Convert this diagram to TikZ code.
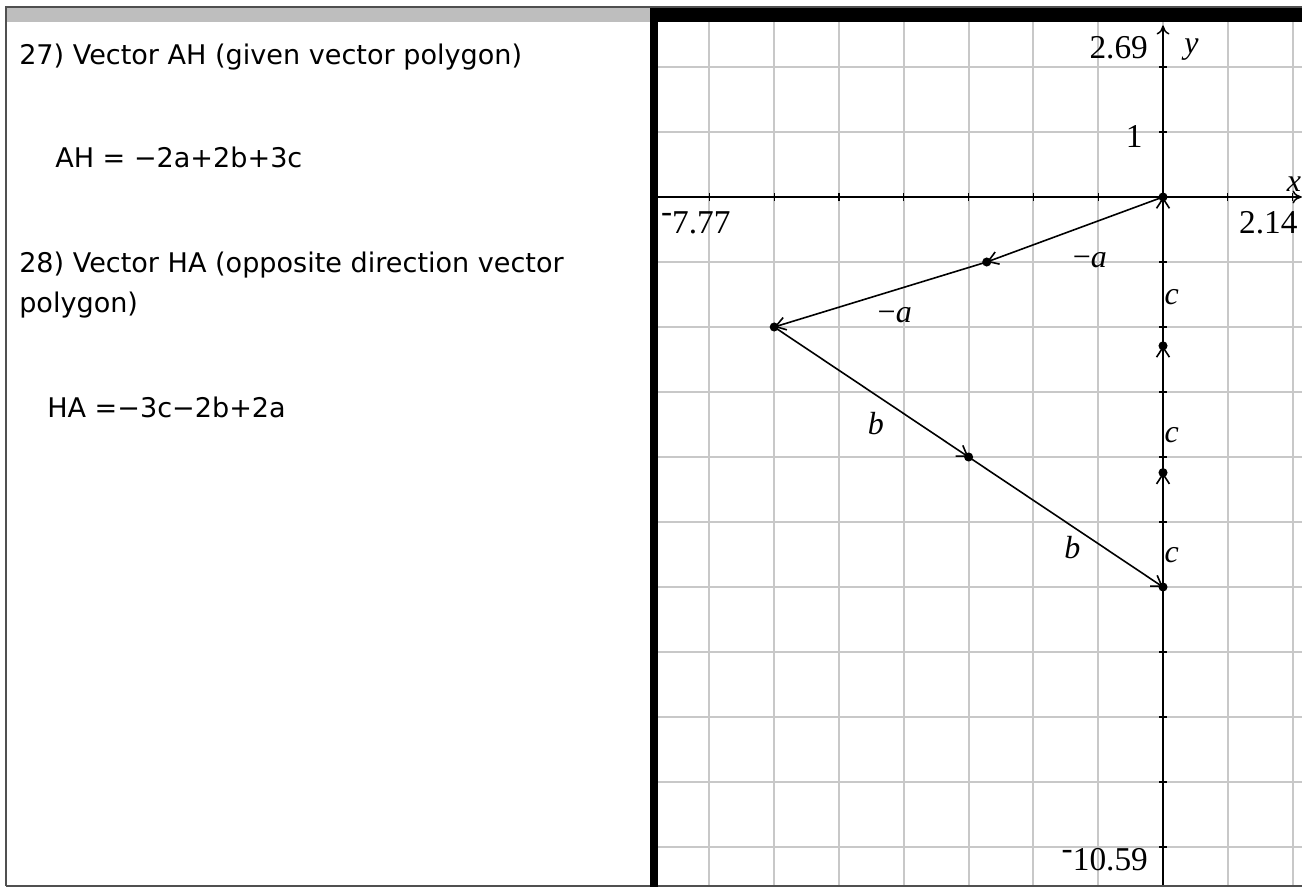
\documentclass[tikz,border=0pt]{standalone}
\usepackage{fontspec}
\setmainfont{Liberation Serif}
\newfontfamily\panelfont{DejaVu Sans}
\usetikzlibrary{arrows.meta}
\definecolor{gridgray}{RGB}{200,200,200}
\definecolor{bargray}{RGB}{190,190,190}
\definecolor{edgegray}{RGB}{80,80,80}

\begin{document}
\begin{tikzpicture}[
    x=0.75pt, y=-0.75pt,
    panel/.style={font=\panelfont\fontsize{20.3}{24}\selectfont, anchor=base west, inner sep=0pt},
    ticklabel/.style={font=\fontsize{25}{30}\selectfont, inner sep=0pt},
    veclabel/.style={font=\fontsize{24}{28}\selectfont, inner sep=0pt},
    gridline/.style={draw=gridgray, line width=1.4pt},
    axis/.style={line width=1.1pt, -{To[length=2.4mm,width=3.4mm]}},
    tickmark/.style={line width=0.8pt},
    vec/.style={line width=1.2pt, -{Straight Barb[length=2.6mm,width=3.4mm]}}
]
    % Page
    \useasboundingbox (0,0) rectangle (1302,887);
    \fill[white] (0,0) rectangle (1302,887);

    % Left panel text
    \node[panel] (q27) at (19,65) {27) Vector AH (given vector polygon)};
    \node[panel] (ah) at (55,168) {AH = −2a+2b+3c};
    \node[panel] (q28) at (19,273) {28) Vector HA (opposite direction vector};
    \node[panel] (q28b) at (19,313) {polygon)};
    \node[panel] (ha) at (47,418) {HA =−3c−2b+2a};

    % Graph
    \begin{scope}[shift={(872.25pt,-147.75pt)}, x=48.6pt, y=48.75pt]
        % Grid
        \foreach \gx in {-7,...,2}
            \draw[gridline] (\gx,-10.59) -- (\gx,2.69);
        \foreach \gy in {-10,...,2}
            \draw[gridline] (-7.79,\gy) -- (2.14,\gy);

        % Axes
        \coordinate (xl) at (-7.79,0);
        \coordinate (xr) at (2.14,0);
        \coordinate (yb) at (0,-10.59);
        \coordinate (yt) at (0,2.64);
        \draw[axis] (xl) -- (xr);
        \draw[axis] (yb) -- (yt);
        \foreach \gx in {-7,...,-1,1,2}
            \draw[tickmark] (\gx,-0.06) -- (\gx,0.06);
        \foreach \gy in {-10,...,-1,1,2}
            \draw[tickmark] (-0.06,\gy) -- (0.06,\gy);

        % Axis labels
        \node[ticklabel, anchor=east] (ymax) at (-0.23,2.29) {2.69};
        \node[ticklabel, anchor=east] (yone) at (-0.31,0.93) {1};
        \node[ticklabel, anchor=west] (xmin) at (-7.75,-0.4) {\raisebox{.75ex}{-}7.77};
        \node[ticklabel, anchor=east] (xmax) at (2.08,-0.4) {2.14};
        \node[ticklabel, anchor=east] (ymin) at (-0.23,-10.2) {\raisebox{.75ex}{-}10.59};
        \node[veclabel] (ylab) at (0.44,2.27) {\textit{y}};
        \node[veclabel] (xlab) at (2.02,0.2) {\textit{x}};

        % Vector polygon
        \coordinate (o) at (0,0);
        \coordinate (na1) at (-2.72,-1);
        \coordinate (na2) at (-6,-2);
        \coordinate (bb1) at (-3,-4);
        \coordinate (bb2) at (0,-6);
        \coordinate (cc1) at (0,-4.24);
        \coordinate (cc2) at (0,-2.29);
        \foreach \from/\to in {o/na1, na1/na2, na2/bb1, bb1/bb2, bb2/cc1, cc1/cc2, cc2/o}
            \draw[vec] (\from) -- (\to);
        \foreach \p in {o, na1, na2, bb1, bb2, cc1, cc2}
            \fill (\p) circle (3.4pt);

        % Vector labels
        \node[veclabel] (la1) at (-1.13,-0.97) {−\textit{a}};
        \node[veclabel] (la2) at (-4.14,-1.82) {−\textit{a}};
        \node[veclabel] (lb1) at (-4.43,-3.48) {\textit{b}};
        \node[veclabel] (lb2) at (-1.40,-5.4) {\textit{b}};
        \node[veclabel, anchor=west] (lc1) at (0.02,-1.54) {\textit{c}};
        \node[veclabel, anchor=west] (lc2) at (0.02,-3.66) {\textit{c}};
        \node[veclabel, anchor=west] (lc3) at (0.02,-5.51) {\textit{c}};
    \end{scope}

    % Frames
    \fill[bargray] (6,7) rectangle (650,22);
    \draw[edgegray, line width=1pt] (6,886) -- (6,7) -- (1302,7);
    \draw[edgegray, line width=1pt] (6,886) -- (1302,886);
    \fill[black] (650,8) rectangle (1302,22);
    \fill[black] (650,8) rectangle (658,887);
\end{tikzpicture}
\end{document}
